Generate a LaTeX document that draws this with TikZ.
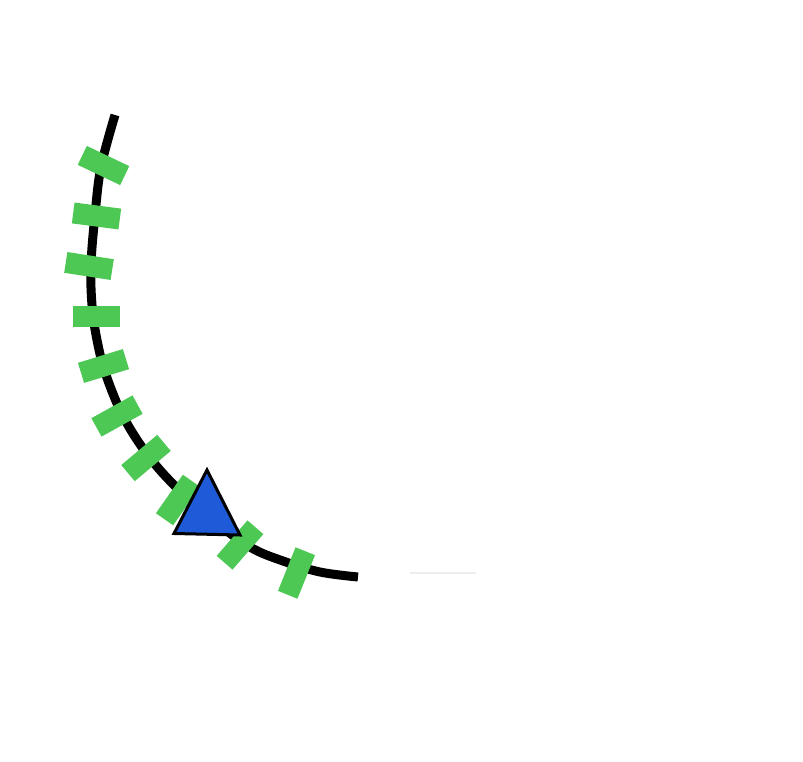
\documentclass[tikz,border=0pt]{standalone}
\usetikzlibrary{positioning}
\definecolor{notchgreen}{RGB}{78,200,84}
\definecolor{markerblue}{RGB}{31,91,217}

\begin{document}
\begin{tikzpicture}[x=1pt,y=-1pt]

\tikzset{notch/.style = {shape=rectangle,fill=notchgreen,inner sep=0pt,minimum width=47pt,minimum height=21pt}}
\tikzset{track/.style = {line width=9pt,black}}
\useasboundingbox (0,0) rectangle (803,762);
% track
\coordinate (start) at (115,115);
\coordinate (stop) at (358,577);
\draw[track] plot[smooth,tension=0.6] coordinates {(115,115) (101,167) (95,215) (91,265) (92,305) (97,340) (106,375) (124,418) (150,458) (180,491) (213,520) (250,547) (283,561) (320,572) (358,577)};
\draw[line width=1.5pt,black!7] (410,573) coordinate (g1) -- (476,573) coordinate (g2);
% notches
\foreach \x/\y/\a [count=\i] in {103.5/165.5/-25.5, 96.5/216/-7.4, 89/266/-8.8, 96.5/316/0, 103.5/366/17, 117/416/29, 146/458/40, 178/500/55, 240/545/49, 296.5/573/68}
  \node[notch, rotate=\a] (n\i) at (\x,\y) {};
% marker
\coordinate (top) at (207,470);
\coordinate (left) at (174,533.5);
\coordinate (right) at (240,535);
\draw[line width=3pt,fill=markerblue,line join=miter] (top) -- (left) -- (right) -- cycle;
\end{tikzpicture}
\end{document}
